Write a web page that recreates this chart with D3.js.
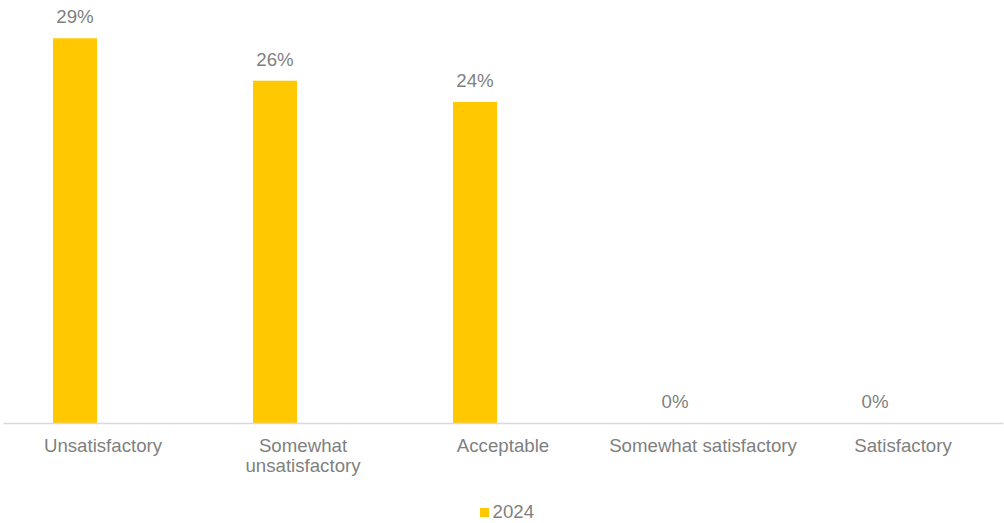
<!DOCTYPE html>
<html>
<head>
<meta charset="utf-8">
<script src="https://cdn.jsdelivr.net/npm/d3@7/dist/d3.min.js"></script>
<style>
  html, body { margin: 0; padding: 0; background: #ffffff; }
  svg { display: block; font-family: "Liberation Sans", Arial, sans-serif; }
</style>
</head>
<body>
<svg id="chart" width="1004" height="523"></svg>
<script>
// ---- data ----
const categories = ["Unsatisfactory", "Somewhat unsatisfactory", "Acceptable", "Somewhat satisfactory", "Satisfactory"];
const seriesName = "2024";
const values2024 = [29.0, 25.8, 24.2, 0, 0];

// ---- layout ----
const W = 1004, H = 523;
const margin = { left: 3, right: 1, top: 25, bottom: 100 };
const baseline = H - margin.bottom;
const barWidth = 44;
const barColor = "#FFC800";
const textColor = "#7f7f7f";
const fontSize = "18.67px";

const svg = d3.select("#chart");

const x = d3.scaleBand()
  .domain(categories)
  .range([margin.left, W - margin.right])
  .padding(0);

// slot inside each category (the visible series occupies the left slot)
const slot = d3.scaleBand()
  .domain([seriesName, "_"])
  .range([0, x.bandwidth()])
  .paddingInner(0.214)
  .paddingOuter(0.893);

const y = d3.scaleLinear()
  .domain([0, 30])
  .range([baseline, margin.top]);

const data = categories.map((c, i) => ({ cat: c, v: values2024[i] }));

// bars
svg.append("g").selectAll("rect")
  .data(data)
  .join("rect")
  .attr("x", d => x(d.cat) + slot(seriesName) + (slot.bandwidth() - barWidth) / 2)
  .attr("width", barWidth)
  .attr("y", d => y(d.v))
  .attr("height", d => y(0) - y(d.v))
  .attr("fill", barColor);

// data labels
svg.append("g").selectAll("text")
  .data(data)
  .join("text")
  .attr("x", d => x(d.cat) + slot(seriesName) + slot.bandwidth() / 2)
  .attr("y", d => y(d.v) - 15)
  .attr("text-anchor", "middle")
  .attr("fill", textColor)
  .style("font-size", fontSize)
  .text(d => Math.round(d.v) + "%");

// x axis
const xAxis = d3.axisBottom(x).tickSize(0).tickPadding(0);
const gx = svg.append("g")
  .attr("transform", `translate(0,${baseline})`)
  .call(xAxis);
gx.select(".domain")
  .attr("stroke", "#d9d9d9")
  .attr("stroke-width", 1.5);
gx.selectAll(".tick text")
  .attr("fill", textColor)
  .style("font-size", fontSize)
  .style("font-family", '"Liberation Sans", Arial, sans-serif')
  .attr("y", 29)
  .attr("dy", 0)
  .call(wrap, x.bandwidth() - 4);

function wrap(sel, width) {
  sel.each(function () {
    const t = d3.select(this);
    const words = t.text().split(/\s+/);
    const xPos = t.attr("x") || 0;
    const y0 = t.attr("y");
    t.text(null);
    let line = [];
    let lineNo = 0;
    let tspan = t.append("tspan").attr("x", xPos).attr("y", y0);
    for (const w of words) {
      line.push(w);
      tspan.text(line.join(" "));
      if (tspan.node().getComputedTextLength() > width && line.length > 1) {
        line.pop();
        tspan.text(line.join(" "));
        line = [w];
        lineNo++;
        tspan = t.append("tspan").attr("x", xPos).attr("y", +y0 + lineNo * 20).text(w);
      }
    }
  });
}

// legend
const legend = svg.append("g").attr("transform", "translate(480,508)");
legend.append("rect").attr("width", 9).attr("height", 9).attr("fill", barColor);
legend.append("text")
  .attr("x", 12.5).attr("y", 10)
  .attr("fill", textColor)
  .style("font-size", fontSize)
  .text(seriesName);
</script>
</body>
</html>
